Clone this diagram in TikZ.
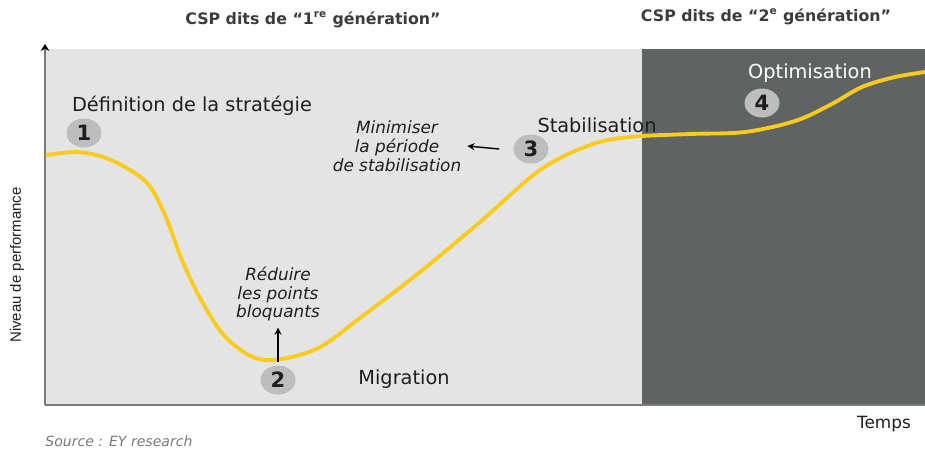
\documentclass[tikz,border=0pt]{standalone}
\usepackage{fontspec}
\setmainfont{DejaVu Sans}
\newfontfamily\axisfont{Liberation Sans}
\usetikzlibrary{arrows.meta,shapes.geometric}

\definecolor{firstgen}{HTML}{E3E4E3}
\definecolor{secondgen}{HTML}{5F6361}
\definecolor{curveyellow}{HTML}{F8CB1C}
\definecolor{numgray}{HTML}{BDBDBD}
\definecolor{textdark}{HTML}{1E1E1E}
\definecolor{titlegray}{HTML}{3C3C3C}
\definecolor{axisgray}{HTML}{7A7A7A}

\begin{document}
\begin{tikzpicture}[x=0.02cm, y=-0.02cm,
    stepnum/.style={ellipse, fill=numgray, inner sep=0pt, minimum width=0.7cm, minimum height=0.58cm, font=\bfseries\large, text=textdark},
    phase/.style={font=\fontsize{11}{13}\selectfont, text=textdark},
    hint/.style={font=\fontsize{9.6}{10.8}\selectfont\itshape, align=center, text=textdark},
    gentitle/.style={font=\fontsize{9}{11}\selectfont\bfseries, text=titlegray}]

    % Define parameters
    \def\xaxis{45}    % left edge of the chart
    \def\xsplit{642}  % end of 1st generation
    \def\ytop{49}
    \def\ybot{405}

    \useasboundingbox (0,0) rectangle (925,450);

    % zones
    \fill[firstgen] (\xaxis,\ytop) rectangle (\xsplit,\ybot);
    \fill[secondgen] (\xsplit,\ytop) rectangle (925,\ybot);

    % Axes
    \draw[axisgray, line width=0.9pt] (\xaxis,\ybot) -- (925,\ybot);
    \draw[axisgray, line width=0.9pt, -{Stealth[length=4pt,width=5pt,black]}] (\xaxis,\ybot) -- (\xaxis,44);

    % performance curve
    \draw[curveyellow, line width=2.2pt, line cap=round] plot[smooth, tension=0.55] coordinates {
        (47,155) (75,152) (100,156) (125,167) (148,184) (165,215) (182,260)
        (200,298) (222,333) (245,353) (265,360) (292,357) (322,346)
        (360,318) (420,272) (480,222) (540,170) (590,145) (630,137)
        (690,134) (745,132) (795,121) (830,105) (862,87) (895,77) (925,72)};

    % titles
    \node[gentitle] (titleA) at (313,20) {CSP dits de ``1\textsuperscript{re} génération''};
    \node[gentitle] (titleB) at (766,17) {CSP dits de ``2\textsuperscript{e} génération''};

    % steps
    \node[stepnum] (s1) at (84,133) {1};
    \node[stepnum] (s2) at (278,380) {2};
    \node[stepnum] (s3) at (531,149) {3};
    \node[stepnum] (s4) at (762,103) {4};

    \node[phase] (p1) at (192,106) {Définition de la stratégie};
    \node[phase] (p2) at (404,379) {Migration};
    \node[phase] (p3) at (597,125) {Stabilisation};
    \node[phase, text=white] (p4) at (810,73) {Optimisation};

    % hints
    \node[hint] (h2) at (278,294) {Réduire\\les points\\bloquants};
    \node[hint] (h3) at (397,146) {Minimiser\\la période\\de stabilisation};
    \draw[-{Stealth[length=4pt,width=4pt]}, line width=0.8pt] (s2.north) ++(0,-3) coordinate (a2) (a2) -- (h2.south);
    \draw[-{Stealth[length=4pt,width=4pt]}, line width=0.8pt] (s3.west) ++(-14,0) coordinate (a3) (a3) -- (h3.east);

    % labels
    \node[font=\axisfont\fontsize{8.5}{10}\selectfont, rotate=90, text=textdark] (ylab) at (17,265) {Niveau de performance};
    \node[phase, font=\fontsize{9.6}{11}\selectfont] (xlab) at (884,424) {Temps};
    \node[font=\fontsize{8}{10}\selectfont\itshape, text=axisgray, anchor=west, inner sep=0pt] (src) at (45,441) {Source : EY research};

\end{tikzpicture}
\end{document}
